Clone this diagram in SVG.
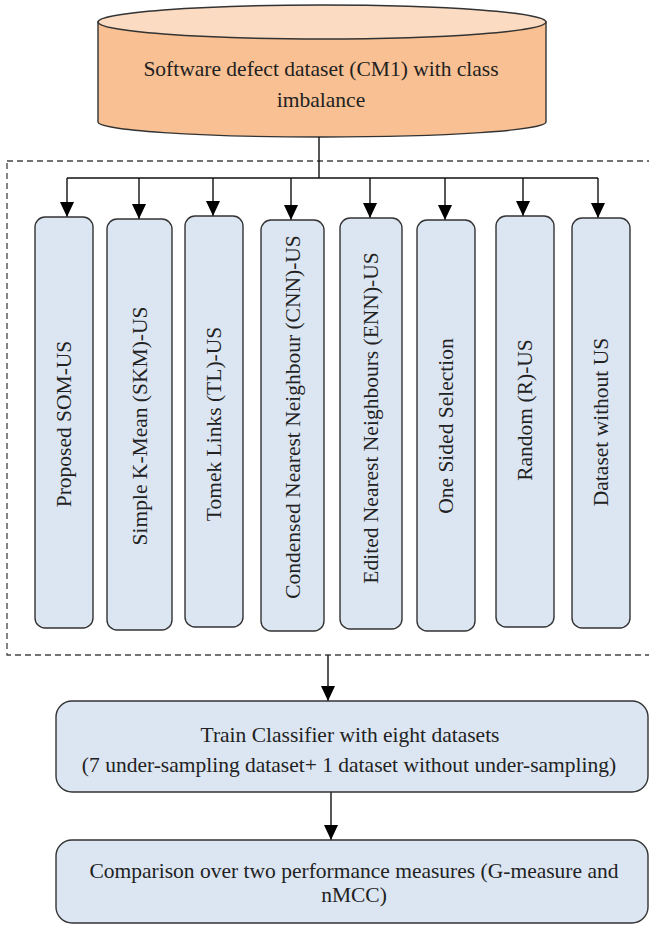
<svg xmlns="http://www.w3.org/2000/svg" width="649" height="925" viewBox="0 0 649 925">
<style>
.t{font-family:"Liberation Serif","Times New Roman",serif;font-size:21.5px;fill:#222;text-anchor:middle}
.box{fill:#dce6f2;stroke:#333;stroke-width:1.4}
.con{stroke:#111;stroke-width:1.4;fill:none}
</style>
<defs>
<marker id="ah" viewBox="0 0 15 14" markerWidth="15" markerHeight="14" refX="15" refY="7" orient="auto" markerUnits="userSpaceOnUse">
<path d="M0,0 L15,7 L0,14 z" fill="#000"/>
</marker>
</defs>
<rect x="7" y="161" width="660" height="494" fill="none" stroke="#444" stroke-width="1.3" stroke-dasharray="6,4"/>
<g id="dataset">
<path d="M98,22 L98,122 A224,15 0 0 0 546,122 L546,22 z" fill="#f9c193" stroke="#333" stroke-width="1.4"/>
<ellipse cx="322" cy="22" rx="224" ry="17" fill="#fbdbc1" stroke="#333" stroke-width="1.4"/>
<text class="t" x="321" y="76">Software defect dataset (CM1) with class</text>
<text class="t" x="321" y="107">imbalance</text>
</g>
<g id="connectors">
<path class="con" d="M319,137 V178 M67,178 H598"/>
<path class="con" d="M67,178 V217" marker-end="url(#ah)"/>
<path class="con" d="M139,178 V219" marker-end="url(#ah)"/>
<path class="con" d="M213,178 V216" marker-end="url(#ah)"/>
<path class="con" d="M291,178 V220" marker-end="url(#ah)"/>
<path class="con" d="M370,178 V218" marker-end="url(#ah)"/>
<path class="con" d="M445,178 V220" marker-end="url(#ah)"/>
<path class="con" d="M523,178 V216" marker-end="url(#ah)"/>
<path class="con" d="M598,178 V218" marker-end="url(#ah)"/>
<path class="con" d="M328,655 V701" marker-end="url(#ah)"/>
<path class="con" d="M331,792 V840" marker-end="url(#ah)"/>
</g>
<g id="som">
<rect class="box" x="35" y="217" width="58" height="411" rx="10"/>
<text class="t" transform="translate(71,424) rotate(-90)">Proposed SOM-US</text>
</g>
<g id="skm">
<rect class="box" x="107" y="219" width="65" height="411" rx="10"/>
<text class="t" transform="translate(147,426) rotate(-90)">Simple K-Mean (SKM)-US</text>
</g>
<g id="tl">
<rect class="box" x="185" y="216" width="58" height="411" rx="10"/>
<text class="t" transform="translate(221,424) rotate(-90)">Tomek Links (TL)-US</text>
</g>
<g id="cnn">
<rect class="box" x="261" y="220" width="63" height="411" rx="10"/>
<text class="t" transform="translate(300,417) rotate(-90)">Condensed Nearest Neighbour (CNN)-US</text>
</g>
<g id="enn">
<rect class="box" x="340" y="218" width="62" height="411" rx="10"/>
<text class="t" transform="translate(378,418) rotate(-90)">Edited Nearest Neighbours (ENN)-US</text>
</g>
<g id="oss">
<rect class="box" x="417" y="220" width="58" height="411" rx="10"/>
<text class="t" transform="translate(453,426) rotate(-90)">One Sided Selection</text>
</g>
<g id="rus">
<rect class="box" x="496" y="216" width="58" height="411" rx="10"/>
<text class="t" transform="translate(532,410) rotate(-90)">Random (R)-US</text>
</g>
<g id="nous">
<rect class="box" x="572" y="218" width="58" height="410" rx="10"/>
<text class="t" transform="translate(608,422) rotate(-90)">Dataset without US</text>
</g>
<g id="train">
<rect class="box" x="56" y="701" width="592" height="91" rx="16"/>
<text class="t" x="350" y="742">Train Classifier with eight datasets</text>
<text class="t" x="349" y="772">(7 under-sampling dataset+ 1 dataset without under-sampling)</text>
</g>
<g id="compare">
<rect class="box" x="56" y="840" width="592" height="83" rx="16"/>
<text class="t" x="354" y="878">Comparison over two performance measures (G-measure and</text>
<text class="t" x="354" y="902">nMCC)</text>
</g>
</svg>
